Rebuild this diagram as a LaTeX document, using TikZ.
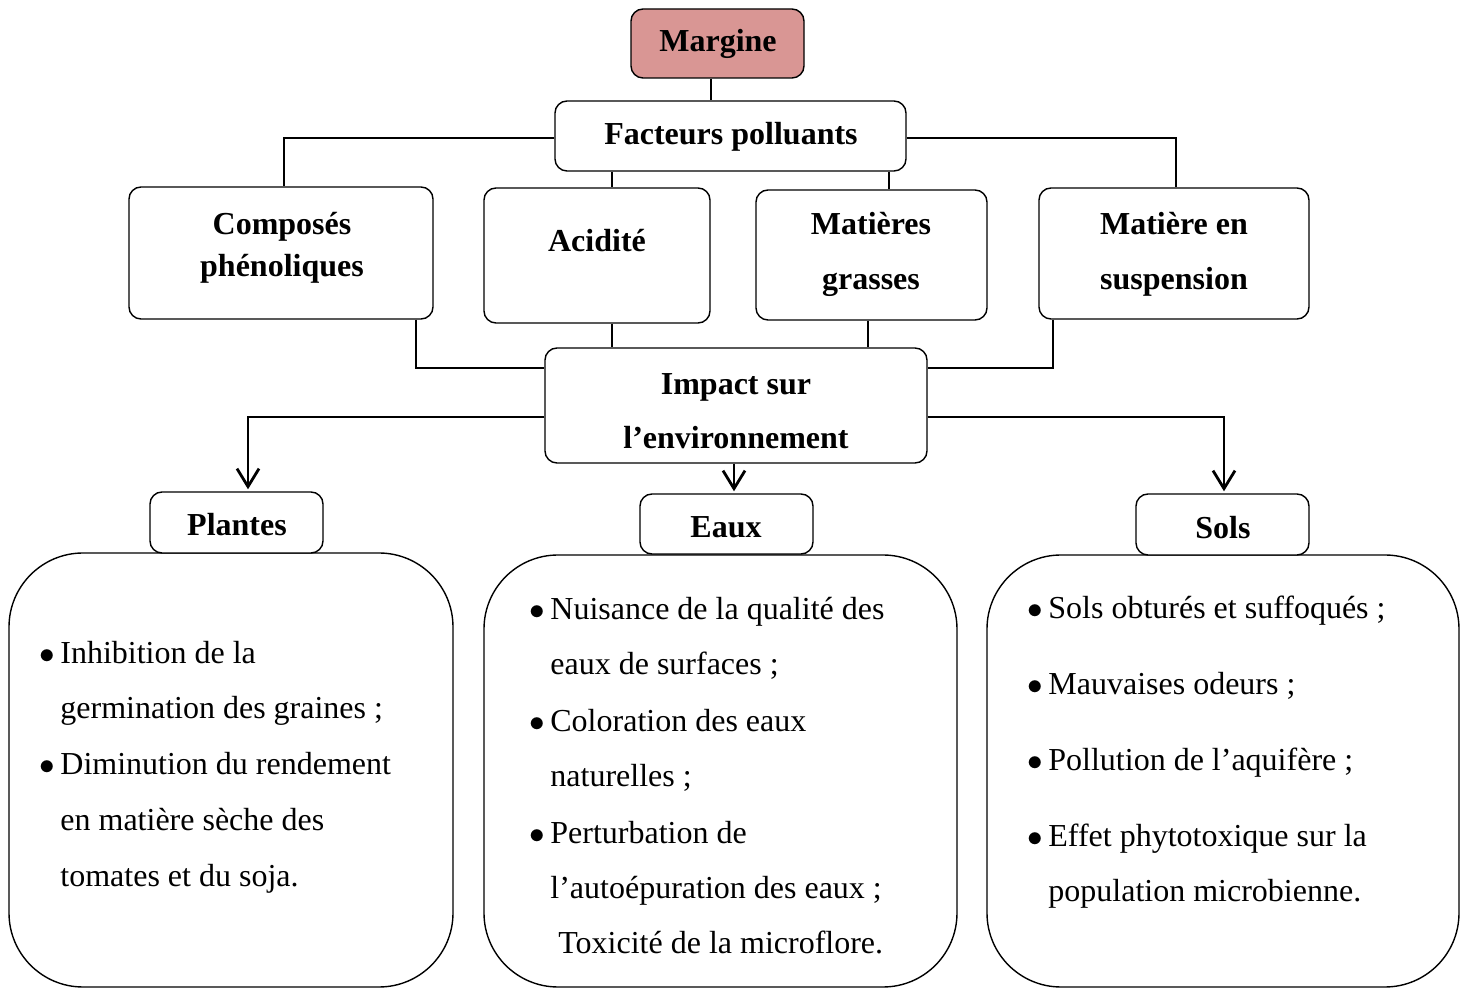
\documentclass[tikz,border=0pt]{standalone}
\usepackage{fontspec}
\setmainfont{Liberation Serif}
\usetikzlibrary{arrows.meta}
\definecolor{rosebox}{RGB}{217,150,148}
\tikzset{
	box/.style={draw, rounded corners=6pt, line width=0.7pt, fill=white, inner sep=0pt},
	bigbox/.style={draw, rounded corners=37pt, line width=0.7pt, inner sep=0pt},
	ttl/.style={font=\fontsize{16pt}{28pt}\selectfont\bfseries, anchor=base, inner sep=0pt},
	itm/.style={anchor=base west, inner sep=0pt},
	link/.style={line width=1pt},
	arr/.style={line width=1.4pt, shorten >=1pt, -{Straight Barb[length=9pt,width=11pt]}},
}
\newcommand{\bul}{\llap{\scalebox{0.9}{$\bullet$}\hspace{2.5pt}}}
\begin{document}
\begin{tikzpicture}[x=0.5pt,y=-0.5pt,font=\fontsize{16pt}{28pt}\selectfont]
		\useasboundingbox (0,0) rectangle (1469,988);
		% lower boxes
		\node[bigbox, minimum width=222pt, minimum height=217pt] (plbox) at (231,770) {};
		\node[bigbox, minimum width=236.5pt, minimum height=216pt] (eabox) at (720.5,771) {};
		\node[bigbox, minimum width=236pt, minimum height=216pt] (sobox) at (1223,771) {};
		% title boxes
		\node[box, fill=rosebox, minimum width=86.5pt, minimum height=34.5pt] (marg) at (717.5,43.5) {};
		\node[box, minimum width=175.5pt, minimum height=35pt] (fact) at (730.5,136) {};
		\node[box, minimum width=152pt, minimum height=66pt] (comp) at (281,253) {};
		\node[box, minimum width=113pt, minimum height=67.5pt] (acid) at (597,255.5) {};
		\node[box, minimum width=115.5pt, minimum height=65pt] (mat) at (871.5,255) {};
		\node[box, minimum width=135pt, minimum height=65.5pt] (susp) at (1174,253.5) {};
		\node[box, minimum width=191pt, minimum height=57.5pt] (imp) at (736,405.5) {};
		\node[box, minimum width=86.5pt, minimum height=30.5pt] (plan) at (236.5,522.5) {};
		\node[box, minimum width=86.5pt, minimum height=30pt] (eaux) at (726.5,524) {};
		\node[box, minimum width=86.5pt, minimum height=30.5pt] (sols) at (1222.5,524.5) {};
		% titles
		\node[ttl] (margt) at (718,52) {Margine};
		\node[ttl] (factt) at (731,145) {Facteurs polluants};
		\node[ttl] (compt1) at (282,235) {Composés};
		\node[ttl] (compt2) at (282,277) {phénoliques};
		\node[ttl] (acidt) at (597,252) {Acidité};
		\node[ttl] (matt1) at (871,235) {Matières};
		\node[ttl] (matt2) at (871,290) {grasses};
		\node[ttl] (suspt1) at (1174,235) {Matière en};
		\node[ttl] (suspt2) at (1174,290) {suspension};
		\node[ttl] (impt1) at (736,395) {Impact sur};
		\node[ttl] (impt2) at (736,449) {l’environnement};
		\node[ttl] (plant) at (237,536) {Plantes};
		\node[ttl] (eauxt) at (726,538) {Eaux};
		\node[ttl] (solst) at (1223,539) {Sols};
		% plantes
		\node[itm] (p1) at (60,664) {\bul Inhibition de la};
		\node[itm] (p2) at (60,719) {germination des graines ;};
		\node[itm] (p3) at (60,775) {\bul Diminution du rendement};
		\node[itm] (p4) at (60,831) {en matière sèche des};
		\node[itm] (p5) at (60,887) {tomates et du soja.};
		% eaux
		\node[itm] (e1) at (550,620) {\bul Nuisance de la qualité des};
		\node[itm] (e2) at (550,675) {eaux de surfaces ;};
		\node[itm] (e3) at (550,732) {\bul Coloration des eaux};
		\node[itm] (e4) at (550,787) {naturelles ;};
		\node[itm] (e5) at (550,844) {\bul Perturbation de};
		\node[itm] (e6) at (550,899) {l’autoépuration des eaux ;};
		\node[itm] (e7) at (558,954) {Toxicité de la microflore.};
		% sols
		\node[itm] (s1) at (1048,619) {\bul Sols obturés et suffoqués ;};
		\node[itm] (s2) at (1048,695) {\bul Mauvaises odeurs ;};
		\node[itm] (s3) at (1048,771) {\bul Pollution de l’aquifère ;};
		\node[itm] (s4) at (1048,847) {\bul Effet phytotoxique sur la};
		\node[itm] (s5) at (1048,902) {population microbienne.};
		% links
		\draw[link] (711,0 |- marg.south) -- (711,0 |- fact.north);
		\draw[link] (fact.west |- 0,138) -| (284,0 |- comp.north);
		\draw[link] (fact.east |- 0,138) -| (1176,0 |- susp.north);
		\draw[link] (612,0 |- fact.south) -- (612,0 |- acid.north);
		\draw[link] (889,0 |- fact.south) -- (889,0 |- mat.north);
		\draw[link] (416,0 |- comp.south) |- (imp.west |- 0,368);
		\draw[link] (612,0 |- acid.south) -- (612,0 |- imp.north);
		\draw[link] (868,0 |- mat.south) -- (868,0 |- imp.north);
		\draw[link] (1053,0 |- susp.south) |- (imp.east |- 0,368);
		\draw[arr] (imp.west |- 0,417) -| (248,0 |- plan.north);
		\draw[arr] (imp.east |- 0,417) -| (1224,0 |- sols.north);
		\draw[arr] (734,0 |- imp.south) -- (734,0 |- eaux.north);
	\end{tikzpicture}
\end{document}
